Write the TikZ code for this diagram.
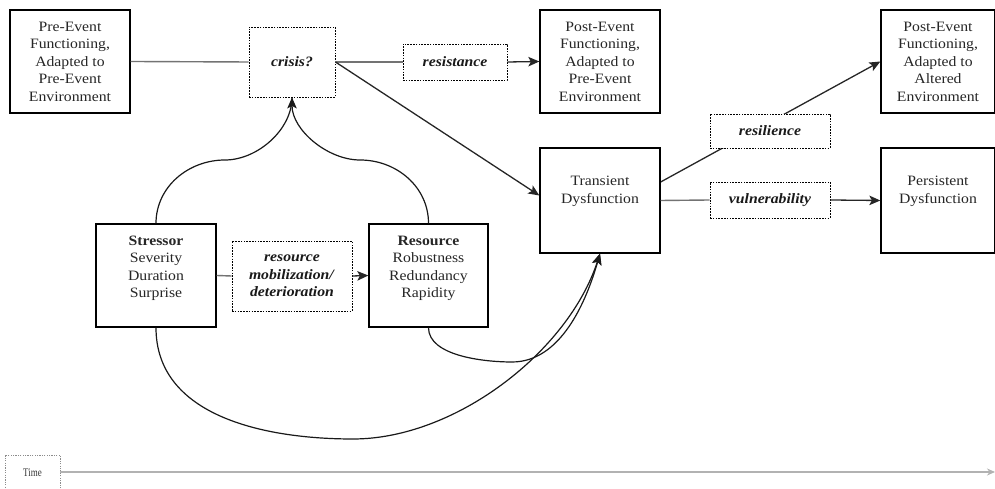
\documentclass[tikz,border=0pt]{standalone}
\usepackage{fontspec}
\setmainfont{Liberation Serif}[FakeStretch=1.1]
\newfontfamily\timefont{Liberation Serif}[FakeStretch=0.78]
\usetikzlibrary{arrows.meta,backgrounds}
\begin{document}
\begin{tikzpicture}[x=1pt,y=1pt,
  font=\fontsize{14.3}{17.5}\selectfont,
  tip/.tip={Stealth[length=11pt,width=9.5pt,inset=2.5pt]},
  boxnode/.style={draw, line width=1.3pt, inner sep=0pt, align=center, text=black!85},
  dbox/.style={draw, line width=0.9pt, dash pattern=on 1.6pt off 1.2pt, inner sep=0pt, align=center, fill=white, text=black!90},
  txt/.style={inner sep=0pt, align=center, text=black!85},
  conn/.style={draw=black!55, line width=1.4pt},
  arr/.style={-tip, line width=1.3pt, draw=black!85},
  curve/.style={line width=1.2pt, draw=black!90}]
\useasboundingbox (0,0) rectangle (995,489);
% boxes
\node[boxnode, minimum width=120, minimum height=103] (pre) at (70,427.5) {Pre-Event\\Functioning,\\Adapted to\\Pre-Event\\Environment};
\node[dbox, minimum width=86, minimum height=70] (crisis) at (292,427) {\textbf{\textit{crisis?}}};
\node[dbox, minimum width=104, minimum height=36] (resist) at (455,427) {\textbf{\textit{resistance}}};
\node[boxnode, minimum width=120, minimum height=103] (post1) at (600,427.5) {Post-Event\\Functioning,\\Adapted to\\Pre-Event\\Environment};
\node[boxnode, minimum width=114, minimum height=103] (post2) at (938,427.5) {Post-Event\\Functioning,\\Adapted to\\Altered\\Environment};
\node[boxnode, minimum width=120, minimum height=105] (trans) at (600,288.5) {};
\node[txt] (transt) at ([yshift=9]trans.center) {Transient\\Dysfunction};
\node[dbox, minimum width=120, minimum height=34] (resil) at (770,358) {\textbf{\textit{resilience}}};
\node[dbox, minimum width=120, minimum height=36] (vuln) at (770,289) {\textbf{\textit{vulnerability}}};
\node[boxnode, minimum width=114, minimum height=105] (persist) at (938,288.5) {};
\node[txt] (persistt) at ([yshift=9]persist.center) {Persistent\\Dysfunction};
\node[boxnode, minimum width=120, minimum height=103] (stress) at (156,213.5) {};
\node[txt] (stresst) at ([yshift=7]stress.center) {\textbf{Stressor}\\Severity\\Duration\\Surprise};
\node[dbox, minimum width=120, minimum height=70] (mobil) at (292,213) {\textbf{\textit{resource}}\\\textbf{\textit{mobilization/}}\\\textbf{\textit{deterioration}}};
\node[boxnode, minimum width=119, minimum height=103] (resource) at (428.5,213.5) {};
\node[txt] (resourcet) at ([yshift=7]resource.center) {\textbf{Resource}\\Robustness\\Redundancy\\Rapidity};
% time
\node[draw=black!45, line width=0.7pt, dash pattern=on 1.2pt off 1.2pt, minimum width=55, minimum height=36, inner sep=0pt, text=black!80, font=\timefont\fontsize{11.5}{13}\selectfont] (time) at (32.5,16) {Time};
\coordinate (timeend) at (995,17);
\draw[draw=black!30, line width=2pt, -{Stealth[length=8pt,width=7pt]}] ([yshift=1]time.east) -- (timeend);
% connectors
\draw[conn] (pre.east) -- (crisis.west);
\draw[conn] (crisis.east) -- (resist.west);
\draw[arr] (resist.east) -- (post1.west);
\draw[arr] (crisis.east) -- ([yshift=5]trans.west);
\begin{pgfonlayer}{background}
\draw[arr] ([yshift=18.5]trans.east) -- (post2.west);
\end{pgfonlayer}
\draw[conn] (trans.east) -- (vuln.west);
\draw[arr] (vuln.east) -- (persist.west);
\draw[conn] (stress.east) -- (mobil.west);
\draw[arr] (mobil.east) -- (resource.west);
% curves
\coordinate (lm) at (225,329);
\coordinate (rm) at (360,329);
\draw[curve] (stress.north) to[out=90,in=180] (lm) to[out=0,in=-90,looseness=0.9] (crisis.south);
\draw[curve, -tip] (resource.north) to[out=90,in=0] (rm) to[out=180,in=-90,looseness=0.9] (crisis.south);
\coordinate (rb) at (512,127);
\coordinate (sb) at (353,50);
\draw[curve, -tip] (resource.south) to[out=-90,in=180,looseness=0.8] (rb) to[out=0,in=-106,looseness=0.9] (trans.south);
\draw[curve, -tip] (stress.south) to[out=-90,in=180] (sb) to[out=0,in=-108,looseness=0.85] (trans.south);
\end{tikzpicture}
\end{document}
